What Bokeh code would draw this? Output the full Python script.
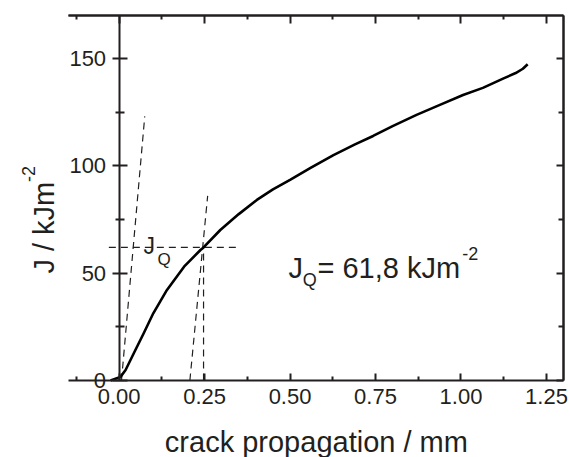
from math import pi
from bokeh.plotting import figure
from bokeh.models import LinearAxis, FixedTicker, PrintfTickFormatter, Label
from bokeh.embed import file_html
from bokeh.resources import INLINE

# ---- data ----
crack_mm = [-0.025, 0.004, 0.019, 0.043, 0.072, 0.10, 0.14, 0.19, 0.238, 0.247, 0.296,
            0.35, 0.403, 0.45, 0.50, 0.56, 0.627, 0.69, 0.743, 0.80, 0.87, 0.94, 1.006,
            1.064, 1.123, 1.16, 1.181, 1.195]
J_kJm2 = [0.0, 1.7, 4.9, 12.7, 22.0, 31.3, 42.2, 53.0, 60.8, 62.0, 70.1,
          77.5, 84.1, 89.0, 93.4, 99.0, 105.0, 110.0, 113.9, 118.5, 123.7, 128.5, 133.0,
          136.3, 140.6, 143.2, 145.2, 147.3]

blunt_x = [0.007, 0.075]
blunt_J = [0.0, 123.0]
offset_x = [0.207, 0.259]
offset_J = [0.0, 86.0]
JQ_value = 62.0
da_Q = 0.247
hline_x = [-0.03, 0.345]

x_major = [0.0, 0.25, 0.5, 0.75, 1.0, 1.25]
x_minor = [-0.125, 0.125, 0.375, 0.625, 0.875, 1.125]
y_major = [0, 50, 100, 150]
y_minor = [25, 75, 125]

X_LO, X_HI = -0.148, 1.299   # plotted box
Y_LO, Y_HI = 0, 170

FONT = "Liberation Sans"
INK = "#231f20"

p = figure(width=570, height=457, x_range=(-0.3469, 1.3203), y_range=(-35.86, 176.99),
           output_backend="svg", toolbar_location=None,
           x_axis_location=None, y_axis_location=None,
           min_border_left=0, min_border_right=0, min_border_top=0, min_border_bottom=0)
p.outline_line_color = None
p.xgrid.grid_line_color = None
p.ygrid.grid_line_color = None
p.background_fill_color = "white"
p.border_fill_color = "white"


def style(ax):
    ax.axis_line_width = 2
    ax.axis_line_color = INK
    ax.major_tick_line_width = 2
    ax.minor_tick_line_width = 2
    ax.major_tick_line_color = INK
    ax.minor_tick_line_color = INK
    ax.major_label_text_font = FONT
    ax.major_label_text_font_size = "22px"
    ax.major_label_text_color = INK
    return ax


bottom = style(LinearAxis(ticker=FixedTicker(ticks=x_major, minor_ticks=x_minor),
                          formatter=PrintfTickFormatter(format="%.2f"),
                          fixed_location=Y_LO, bounds=(X_LO, X_HI),
                          major_tick_in=7, major_tick_out=0,
                          minor_tick_in=4, minor_tick_out=0,
                          major_label_standoff=8))
p.add_layout(bottom, "below")

left = style(LinearAxis(ticker=FixedTicker(ticks=y_major, minor_ticks=y_minor),
                        fixed_location=0, bounds=(Y_LO, Y_HI),
                        major_tick_in=8, major_tick_out=7,
                        minor_tick_in=5, minor_tick_out=4,
                        major_label_standoff=6))
p.add_layout(left, "left")

top1 = style(LinearAxis(ticker=FixedTicker(ticks=[], minor_ticks=x_major),
                        fixed_location=Y_HI, bounds=(X_LO, X_HI),
                        minor_tick_in=8, minor_tick_out=0))
top2 = style(LinearAxis(ticker=FixedTicker(ticks=[], minor_ticks=x_minor),
                        fixed_location=Y_HI, bounds=(X_LO, X_HI),
                        minor_tick_in=4, minor_tick_out=0))
p.add_layout(top1, "above")
p.add_layout(top2, "above")

right1 = style(LinearAxis(ticker=FixedTicker(ticks=[], minor_ticks=y_major),
                          fixed_location=X_HI, bounds=(Y_LO, Y_HI),
                          minor_tick_in=7, minor_tick_out=0))
right2 = style(LinearAxis(ticker=FixedTicker(ticks=[], minor_ticks=y_minor),
                          fixed_location=X_HI, bounds=(Y_LO, Y_HI),
                          minor_tick_in=5, minor_tick_out=0))
p.add_layout(right1, "right")
p.add_layout(right2, "right")

# construction lines
dash = dict(line_color=INK, line_width=1.2, line_dash="7 5")
p.line(blunt_x, blunt_J, **dash)
p.line(offset_x, offset_J, **dash)
p.line(hline_x, [JQ_value, JQ_value], **dash)
p.line([da_Q, da_Q], [0, JQ_value], **dash)

# J-R curve
p.line(crack_mm, J_kJm2, line_color="black", line_width=2.6, line_join="round")


def lab(x, y, text, size, angle=0.0, align="left"):
    p.add_layout(Label(x=x, y=y, text=text, text_font=FONT, text_font_size=size,
                       text_color=INK, angle=angle, text_align=align,
                       text_baseline="alphabetic"))


# x axis title
lab(0.577, -28.6, "crack propagation / mm", "29px", align="center")
# y axis title
lab(-0.221, 49.8, "J / kJm", "29px", pi / 2)
lab(-0.265, 92.5, "-2", "18px", pi / 2)

# small J_Q near construction
lab(0.071, 62.5, "J", "23px")
lab(0.112, 56.5, "Q", "17px")

# result text
lab(0.4955, 52.2, "J", "29px")
lab(0.537, 46.8, "Q", "18px")
lab(0.580, 52.2, "= 61,8 kJm", "29px")
lab(1.004, 59.0, "-2", "18px")

open("out.html", "w").write(file_html(p, INLINE))
